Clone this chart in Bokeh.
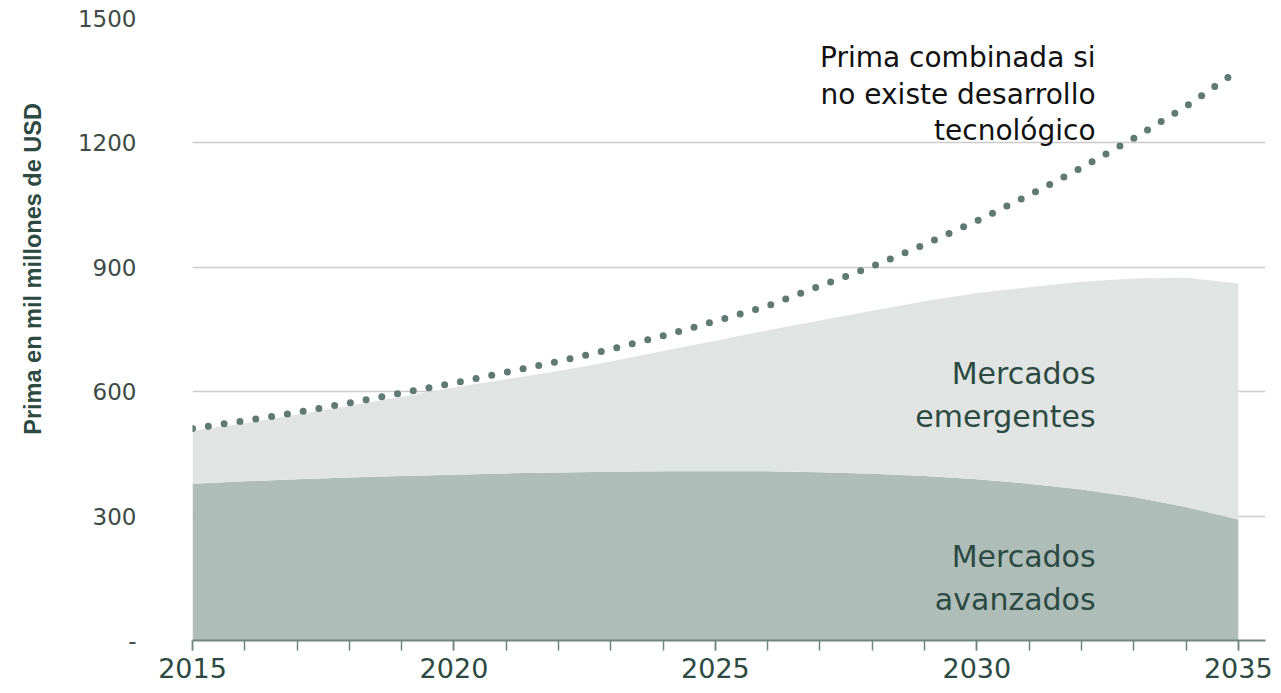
import math
from bokeh.plotting import figure
from bokeh.layouts import row
from bokeh.models import Range1d, FixedTicker, SingleIntervalTicker, Label
from bokeh.embed import file_html
from bokeh.resources import INLINE

# ---- data ----
years = list(range(2015, 2036))
avanzados = [378, 384, 389, 393, 397, 400, 403, 405, 407, 408, 408,
             408, 406, 402, 397, 389, 378, 364, 346, 322, 292]
emergentes = [128, 140, 156, 173, 191, 210, 227, 245, 266, 290, 315,
              340, 366, 393, 421, 449, 474, 501, 527, 553, 569]
sin_tecnologia = [511, 530, 550, 573, 597, 621, 647, 673, 702, 735, 770,
                  807, 855, 902, 955, 1012, 1074, 1140, 1211, 1288, 1375]
y_ticks = [0, 300, 600, 900, 1200, 1500]
y_tick_text = {0: "-"}
y_title = "Prima en mil millones de USD"

DARK = "#afbdb9"
LIGHT = "#e0e4e3"
DOT = "#5f7a73"
TXT = "#2c4a41"
FONT = "DejaVu Sans"
H = 688

# narrow panel holding the (off-centre) y-axis title
t = figure(width=60, height=H, output_backend="svg", toolbar_location=None,
           x_range=Range1d(0, 60), y_range=Range1d(0, H),
           x_axis_type=None, y_axis_type=None,
           min_border_left=0, min_border_right=0, min_border_top=0, min_border_bottom=0)
t.outline_line_color = None
t.grid.visible = False
t.add_layout(Label(x=32, y=H - 277, text=y_title, angle=math.pi / 2,
                   text_align="center", text_baseline="middle",
                   text_font="Liberation Sans", text_font_style="bold",
                   text_font_size="23.5px", text_color=TXT))

p = figure(width=1213, height=H, output_backend="svg", toolbar_location=None,
           x_range=Range1d(2015, 2035.52), y_range=Range1d(0, 1500),
           min_border_left=132, min_border_right=8, min_border_top=18,
           min_border_bottom=48)
p.outline_line_color = None
p.background_fill_color = "white"
p.border_fill_color = "white"

src = dict(x=years, avanzados=avanzados, emergentes=emergentes)
p.varea_stack(stackers=["avanzados", "emergentes"], x="x", color=[DARK, LIGHT], source=src)
p.line(years, sin_tecnologia, line_color=DOT, line_width=7, line_dash="0 16", line_cap="round")

# axes
xa = p.xaxis[0]
xa.ticker = SingleIntervalTicker(interval=5, num_minor_ticks=5)
xa.axis_line_color = "#6f8580"
xa.axis_line_width = 2
xa.major_tick_line_color = "#6f8580"
xa.minor_tick_line_color = "#6f8580"
xa.major_tick_line_width = 1.5
xa.minor_tick_line_width = 1.5
xa.major_tick_in = 0
xa.major_tick_out = 10
xa.minor_tick_in = 0
xa.minor_tick_out = 10
xa.major_label_text_font = FONT
xa.major_label_text_font_size = "27px"
xa.major_label_text_color = TXT
xa.major_label_standoff = 7

ya = p.yaxis[0]
ya.ticker = FixedTicker(ticks=y_ticks)
ya.major_label_overrides = y_tick_text
ya.axis_line_color = None
ya.major_tick_line_color = None
ya.minor_tick_line_color = None
ya.major_label_text_font = FONT
ya.major_label_text_font_size = "23px"
ya.major_label_text_color = "#3d4a45"
ya.major_label_standoff = 50

p.xgrid.grid_line_color = None
p.ygrid.grid_line_color = "#cccccc"
p.ygrid.grid_line_width = 1.5

# annotations
for txt, yv in [("Prima combinada si", 1405), ("no existe desarrollo", 1316), ("tecnológico", 1229)]:
    p.add_layout(Label(x=2032.27, y=yv, text=txt, text_align="right", text_baseline="alphabetic",
                       text_font=FONT, text_font_size="28px", text_color="#111111"))
for txt, yv in [("Mercados", 643), ("emergentes", 539), ("Mercados", 203), ("avanzados", 99)]:
    p.add_layout(Label(x=2032.27, y=yv, text=txt, text_align="right", text_baseline="alphabetic",
                       text_font=FONT, text_font_size="30px", text_color=TXT))

layout = row(t, p, spacing=0)
open("out.html", "w").write(file_html(layout, INLINE))
